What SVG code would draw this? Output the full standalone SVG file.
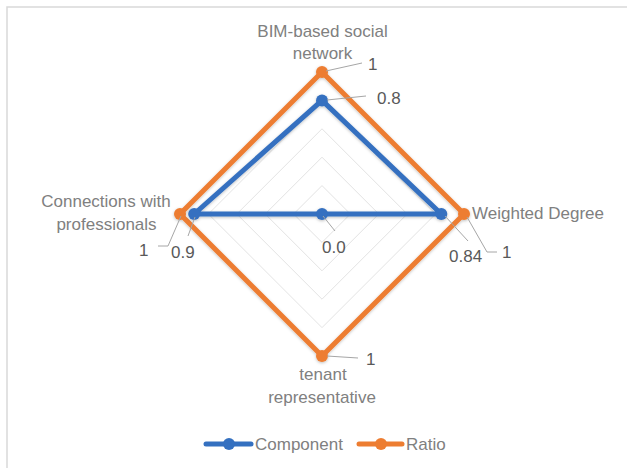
<svg xmlns="http://www.w3.org/2000/svg" width="627" height="468" viewBox="0 0 627 468">
<style>
.cat{font-family:"Liberation Sans",Arial,sans-serif;font-size:17px;fill:#808080}
.val{font-family:"Liberation Sans",Arial,sans-serif;font-size:17px;fill:#595959}
.grid{fill:none;stroke:#E3E3E3;stroke-width:1}
.lead{fill:none;stroke:#A6A6A6;stroke-width:1}
.blue{fill:none;stroke:#3470C0;stroke-width:5;stroke-linejoin:round;stroke-linecap:round}
.orange{fill:none;stroke:#ED7D31;stroke-width:5;stroke-linejoin:round;stroke-linecap:round}
.bdot{fill:#3470C0}
.odot{fill:#ED7D31}
</style>
<defs>
<filter id="sh" x="-10%" y="-10%" width="120%" height="120%">
<feDropShadow dx="0" dy="1" stdDeviation="1.5" flood-color="#000" flood-opacity="0.25"/>
</filter>
</defs>
<rect x="0" y="0" width="627" height="468" fill="#fff"/>
<path d="M7 468V7H627" fill="none" stroke="#D9D9D9" stroke-width="1.5"/>
<g id="grid">
<polygon class="grid" points="322,185.6 350.4,214 322,242.4 293.6,214"/>
<polygon class="grid" points="322,157.2 378.8,214 322,270.8 265.2,214"/>
<polygon class="grid" points="322,128.8 407.2,214 322,299.2 236.8,214"/>
<polygon class="grid" points="322,100.4 435.6,214 322,327.6 208.4,214"/>
<polygon class="grid" points="322,72 464,214 322,356 180,214"/>
</g>
<g id="connectors">
<g id="series-ratio" filter="url(#sh)">
<polygon class="orange" points="322,72 464,214 322,356 180,214"/>
<circle class="odot" cx="322" cy="72" r="6"/>
<circle class="odot" cx="464" cy="214" r="6"/>
<circle class="odot" cx="322" cy="356" r="6"/>
<circle class="odot" cx="180" cy="214" r="6"/>
</g>
<g id="series-component" filter="url(#sh)">
<polygon class="blue" points="322,100.4 441.3,214 322,214 194.2,214"/>
<circle class="bdot" cx="322" cy="100.4" r="6"/>
<circle class="bdot" cx="441.3" cy="214" r="6"/>
<circle class="bdot" cx="322" cy="214" r="6"/>
<circle class="bdot" cx="194.2" cy="214" r="6"/>
</g>
<g id="leaders">
<path class="lead" d="M326 71L362 63"/>
<path class="lead" d="M327 100L366 96"/>
<path class="lead" d="M323 216L335 231"/>
<path class="lead" d="M445 216L468 241"/>
<path class="lead" d="M467 217L487 252H497"/>
<path class="lead" d="M327 356L358 358"/>
<path class="lead" d="M181 216L168 246H158"/>
<path class="lead" d="M195 217L188 236"/>
</g>
</g>
<g id="node-bim">
<text class="cat" x="322.5" y="37" text-anchor="middle">BIM-based social</text>
<text class="cat" x="322.5" y="59" text-anchor="middle">network</text>
<text class="val" x="368" y="70">1</text>
<text class="val" x="377" y="104">0.8</text>
</g>
<g id="node-weighted">
<text class="cat" x="472" y="219">Weighted Degree</text>
<text class="val" x="449" y="262">0.84</text>
<text class="val" x="502" y="258">1</text>
</g>
<g id="node-tenant">
<text class="cat" x="323" y="380" text-anchor="middle">tenant</text>
<text class="cat" x="322" y="403" text-anchor="middle">representative</text>
<text class="val" x="366" y="365">1</text>
</g>
<g id="node-connections">
<text class="cat" x="106" y="207" text-anchor="middle">Connections with</text>
<text class="cat" x="106.5" y="230" text-anchor="middle">professionals</text>
<text class="val" x="139" y="256">1</text>
<text class="val" x="171" y="258">0.9</text>
</g>
<g id="node-center">
<text class="val" x="322" y="253">0.0</text>
</g>
<g id="legend">
<path d="M206 444H251" stroke="#3470C0" stroke-width="5" stroke-linecap="round"/>
<circle class="bdot" cx="229" cy="444" r="6"/>
<text class="cat" x="255" y="450">Component</text>
<path d="M359 444H402" stroke="#ED7D31" stroke-width="5" stroke-linecap="round"/>
<circle class="odot" cx="381" cy="444" r="6"/>
<text class="cat" x="406" y="450">Ratio</text>
</g>
</svg>
